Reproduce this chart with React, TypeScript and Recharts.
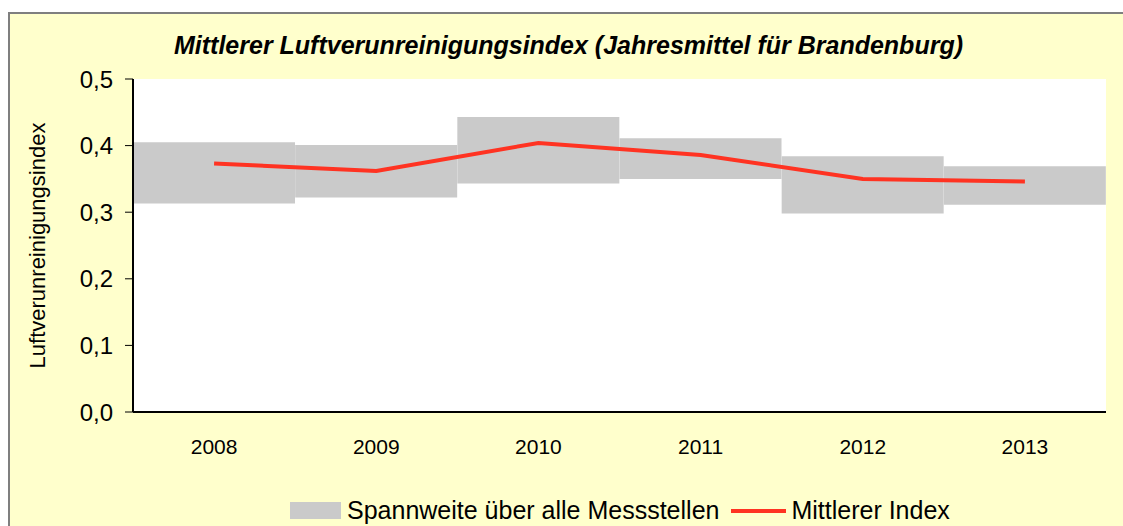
import React from "react";
import {
  ComposedChart,
  Bar,
  Line,
  XAxis,
  YAxis,
  CartesianGrid,
  Legend,
  Label,
} from "recharts";

const years = ["2008", "2009", "2010", "2011", "2012", "2013"];
const rangeLow = [0.313, 0.322, 0.343, 0.35, 0.298, 0.311];
const rangeHigh = [0.405, 0.401, 0.443, 0.411, 0.384, 0.369];
const meanIndex = [0.373, 0.362, 0.404, 0.386, 0.35, 0.346];
const yTicks = [0, 0.1, 0.2, 0.3, 0.4, 0.5];

const title = "Mittlerer Luftverunreinigungsindex (Jahresmittel für Brandenburg)";
const yLabel = "Luftverunreinigungsindex";
const rangeName = "Spannweite über alle Messstellen";
const meanName = "Mittlerer Index";

const data = years.map((y, i) => ({
  year: y,
  range: [rangeLow[i], rangeHigh[i]],
  mean: meanIndex[i],
}));

const FONT = "'Liberation Sans', Arial, sans-serif";

const fmt = (v: number) => v.toFixed(1).replace(".", ",");

const LegendContent = (props: any) => {
  const payload = [...(props.payload || [])].sort((a: any, b: any) =>
    a.type === "line" ? 1 : b.type === "line" ? -1 : 0
  );
  return (
    <div
      style={{
        display: "flex",
        alignItems: "center",
        fontFamily: FONT,
        fontSize: 25,
        lineHeight: "29px",
        color: "#000",
        whiteSpace: "nowrap",
      }}
    >
      {payload.map((p: any) => (
        <div
          key={p.value}
          style={{ display: "flex", alignItems: "center", marginRight: 12 }}
        >
          {p.type === "line" ? (
            <span
              style={{
                display: "inline-block",
                width: 55,
                height: 4,
                background: p.color,
                marginRight: 5,
              }}
            />
          ) : (
            <span
              style={{
                display: "inline-block",
                width: 51,
                height: 17,
                background: p.color,
                marginRight: 6,
              }}
            />
          )}
          <span>{p.value}</span>
        </div>
      ))}
    </div>
  );
};

export default function App() {
  return (
    <div
      style={{
        position: "fixed",
        left: 8,
        top: 8,
        width: 1115,
        height: 518,
        overflow: "hidden",
      }}
    >
      <div
        style={{
          position: "absolute",
          left: 0,
          top: 4,
          width: 1115,
          height: 520,
          boxSizing: "border-box",
          background: "#FFFFCC",
          borderTop: "2px solid #7f7f7f",
          borderLeft: "2px solid #7f7f7f",
        }}
      />
      <div
        style={{
          position: "absolute",
          left: 0,
          top: 23,
          width: 1121,
          textAlign: "center",
          fontFamily: FONT,
          fontWeight: "bold",
          fontStyle: "italic",
          fontSize: 25,
          lineHeight: "29px",
          color: "#000",
          whiteSpace: "nowrap",
        }}
      >
        {title}
      </div>
      <div style={{ position: "absolute", left: 0, top: 0 }}>
        <ComposedChart
          width={1115}
          height={518}
          data={data}
          margin={{ top: 71, right: 17, bottom: 84, left: 65 }}
          barCategoryGap={0}
        >
          <CartesianGrid
            vertical={false}
            stroke="#000"
            fill="#fff"
            horizontalValues={yTicks}
          />
          <XAxis
            dataKey="year"
            tickLine={false}
            tickSize={6}
            tickMargin={21}
            axisLine={{ stroke: "#000", strokeWidth: 2 }}
            tick={{ fill: "#000", fontSize: 21, fontFamily: FONT }}
            height={30}
          />
          <YAxis
            yAxisId="l"
            domain={[0, 0.5]}
            ticks={yTicks}
            tickFormatter={fmt}
            width={60}
            tickSize={8}
            tickMargin={12}
            tickLine={{ stroke: "#000" }}
            axisLine={{ stroke: "#000", strokeWidth: 2 }}
            tick={{ fill: "#000", fontSize: 24, fontFamily: FONT }}
          >
            <Label
              content={(p: any) => {
                const vb = p.viewBox || {};
                const cy = vb.y + vb.height / 2;
                return (
                  <text
                    x={29}
                    y={cy}
                    transform={`rotate(-90, 29, ${cy})`}
                    textAnchor="middle"
                    dominantBaseline="central"
                    fontSize={22}
                    fontFamily={FONT}
                    fill="#000"
                  >
                    {yLabel}
                  </text>
                );
              }}
            />
          </YAxis>
          <YAxis
            yAxisId="r"
            orientation="right"
            domain={[0, 0.5]}
            width={0}
            tick={false}
            tickLine={false}
            axisLine={{ stroke: "#333", strokeWidth: 2 }}
          />
          <Bar
            yAxisId="l"
            dataKey="range"
            name={rangeName}
            fill="#CACACA"
            isAnimationActive={false}
            legendType="rect"
          />
          <Line
            yAxisId="l"
            dataKey="mean"
            name={meanName}
            stroke="#FF3322"
            strokeWidth={4}
            dot={false}
            activeDot={false}
            type="linear"
            isAnimationActive={false}
            legendType="line"
          />
          <Legend
            verticalAlign="middle"
            align="center"
            content={<LegendContent />}
            wrapperStyle={{ position: "absolute", left: 282, top: 488, width: "auto" }}
          />
        </ComposedChart>
      </div>
    </div>
  );
}
